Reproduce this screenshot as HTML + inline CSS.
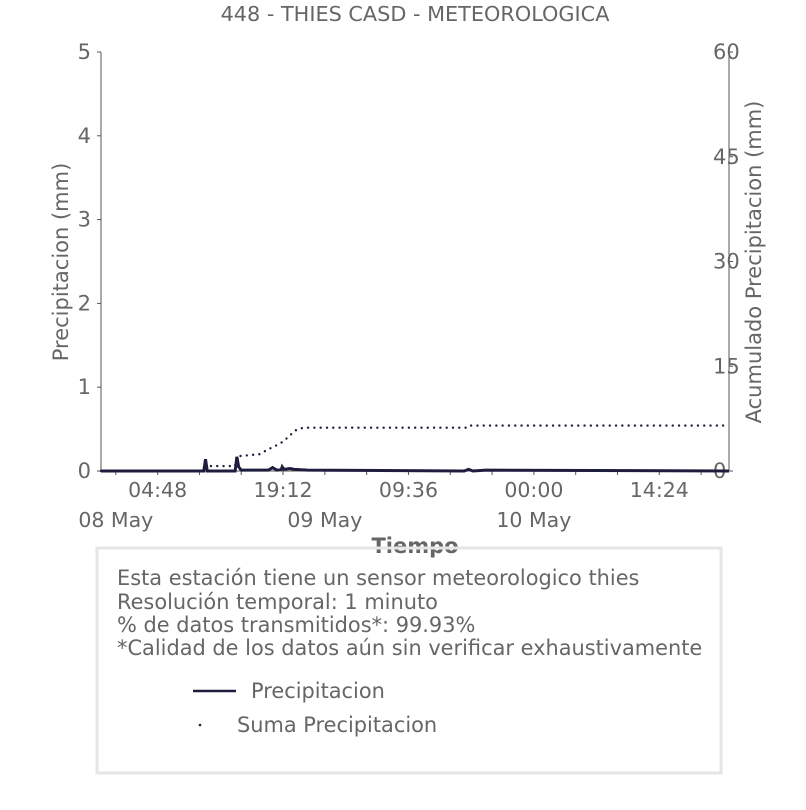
<!DOCTYPE html>
<html><head><meta charset="utf-8"><style>
body{margin:0;background:#fff;font-family:"DejaVu Sans","Liberation Sans",sans-serif;}
svg text{fill:#666;font-family:"DejaVu Sans","Liberation Sans",sans-serif;}
</style></head><body>
<svg id="c" width="806" height="806" viewBox="0 0 806 806" xmlns="http://www.w3.org/2000/svg">
<text x="415" y="21" text-anchor="middle" font-size="20.8">448 - THIES CASD - METEOROLOGICA</text>
<g id="axes"></g>
<g id="marks"></g>
<text x="415" y="553" text-anchor="middle" font-size="21" font-weight="bold">Tiempo</text>
<text transform="translate(68,262) rotate(-90)" text-anchor="middle" font-size="21">Precipitacion (mm)</text>
<text transform="translate(761,262) rotate(-90)" text-anchor="middle" font-size="21">Acumulado Precipitacion (mm)</text>
<rect x="97" y="548" width="624" height="225" fill="none" stroke="#e6e6e6" stroke-width="3"/>
<g font-size="20.9">
<text x="117" y="585">Esta estación tiene un sensor meteorologico thies</text>
<text x="117" y="609">Resolución temporal: 1 minuto</text>
<text x="117" y="632">% de datos transmitidos*: 99.93%</text>
<text x="117" y="655">*Calidad de los datos aún sin verificar exhaustivamente</text>
</g>
<g>
<line x1="193" y1="691" x2="236" y2="691" stroke="#1f1d3d" stroke-width="2.5"/>
<text x="251" y="698" font-size="20.9">Precipitacion</text></g>
<g>
<circle cx="200" cy="725" r="1.3" fill="#1f1d3d"/>
<text x="237" y="732" font-size="20.9">Suma Precipitacion</text></g>
</svg>
<script>
// data (hours since 08 May 00:00)
const precipTimes=[-1.7,10.1,10.3,10.5,13.7,13.9,14.1,14.4,17.5,18.0,18.5,19.0,19.1,19.3,20.0,20.5,22.0,40.0,40.5,41.0,42.5,70.4];
const precipValues=[0,0,0.14,0,0,0.17,0.05,0.01,0.01,0.04,0.01,0.02,0.05,0.02,0.03,0.02,0.01,0,0.02,0,0.01,0];
const cumTimes=[-1.7,10.2,10.4,13.7,13.9,16.5,17.5,18.5,19.2,19.9,20.6,21.5,40.2,40.5,70.4];
const cumValues=[0,0,0.7,0.7,2.1,2.4,3.1,3.7,4.2,5.0,5.8,6.2,6.2,6.5,6.5];
const leftTicks=[0,1,2,3,4,5];
const rightTicks=[0,15,30,45,60];
const timeTicks=[4.8,19.2,33.6,48,62.4];
const timeLabels=["04:48","19:12","09:36","00:00","14:24"];
const dayTicks=[0,24,48];
const dayLabels=["08 May","09 May","10 May"];

const X0=101,X1=729,Y0=471,Y1=52,H0=-1.7,H1=70.4;
const x=h=>X0+(h-H0)/(H1-H0)*(X1-X0);
const yL=v=>Y0-v/5*(Y0-Y1);
const yR=v=>Y0-v/60*(Y0-Y1);
const NS="http://www.w3.org/2000/svg";
const axes=document.getElementById('axes'),marks=document.getElementById('marks');
function mk(tag,a,parent){const e=document.createElementNS(NS,tag);for(const k in a)e.setAttribute(k,a[k]);parent.appendChild(e);return e;}
let e;
e=mk('line',{x1:X0,y1:Y1,x2:X0,y2:Y0,stroke:'#555','stroke-width':1},axes);


e=mk('line',{x1:X1,y1:Y1,x2:X1,y2:Y0,stroke:'#555','stroke-width':1},axes);


e=mk('line',{x1:X0,y1:Y0,x2:X1,y2:Y0,stroke:'#555','stroke-width':1},axes);


leftTicks.forEach(v=>{
  mk('line',{x1:X0-4,y1:yL(v),x2:X0,y2:yL(v),stroke:'#555'},axes);
  e=mk('text',{x:X0-10,y:yL(v)+7,'text-anchor':'end','font-size':21},axes);e.textContent=v;
  
  
});
rightTicks.forEach(v=>{
  mk('line',{x1:X1,y1:yR(v),x2:X1+4,y2:yR(v),stroke:'#555'},axes);
  e=mk('text',{x:X1-16,y:yR(v)+7,'font-size':21},axes);e.textContent=v;
  
  
});
for(let h=0;h<=H1;h+=4.8){mk('line',{x1:x(h),y1:Y0,x2:x(h),y2:Y0+4,stroke:'#555'},axes);}
timeTicks.forEach((h,i)=>{
  e=mk('text',{x:x(h),y:Y0+26,'text-anchor':'middle','font-size':20.5},axes);e.textContent=timeLabels[i];
  
  
});
dayTicks.forEach((h,i)=>{
  e=mk('text',{x:x(h),y:Y0+56,'text-anchor':'middle','font-size':20.5},axes);e.textContent=dayLabels[i];
  
  
});
e=mk('polyline',{points:cumTimes.map((h,i)=>x(h)+','+yR(cumValues[i])).join(' '),fill:'none',stroke:'#1f1d3d','stroke-width':2.4,'stroke-dasharray':'0 6.3','stroke-linecap':'round'},marks);


e=mk('polyline',{points:precipTimes.map((h,i)=>x(h)+','+yL(precipValues[i])).join(' '),fill:'none',stroke:'#1f1d3d','stroke-width':3},marks);


</script>
</body></html>
